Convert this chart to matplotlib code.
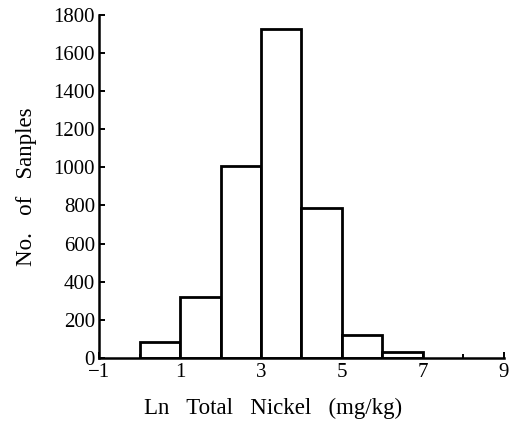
import matplotlib
matplotlib.use("Agg")
import matplotlib.pyplot as plt

# Histogram of ln total nickel, bins of width 1
bin_edges = [0, 1, 2, 3, 4, 5, 6, 7]
counts = [85, 318, 1005, 1725, 785, 118, 30]

x_ticks = [-1, 1, 3, 5, 7, 9]
x_minor = [0, 2, 4, 6, 8]
y_ticks = [0, 200, 400, 600, 800, 1000, 1200, 1400, 1600, 1800]

plt.rcParams['font.family'] = ['Liberation Serif', 'DejaVu Serif']

fig = plt.figure(figsize=(5.14, 4.24), dpi=100)
ax = fig.add_axes([0.193, 0.156, 0.787, 0.809])

widths = [b - a for a, b in zip(bin_edges[:-1], bin_edges[1:])]
ax.bar(bin_edges[:-1], counts, width=widths, align='edge',
       facecolor='white', edgecolor='black', linewidth=2.0)

ax.set_xlim(-1, 9)
ax.set_ylim(0, 1800)
ax.set_xticks(x_ticks)
ax.set_xticklabels(['\u22121' if t < 0 else str(t) for t in x_ticks])
ax.set_xticks(x_minor, minor=True)
ax.set_yticks(y_ticks)

for side in ['top', 'right']:
    ax.spines[side].set_visible(False)
for side in ['left', 'bottom']:
    ax.spines[side].set_linewidth(1.8)

ax.tick_params(which='both', direction='in', length=4, width=1.4, labelsize=15)
ax.tick_params(axis='x', pad=4)
ax.tick_params(axis='y', pad=3)
ax.tick_params(which='minor', length=3)

ax.set_xlabel('Ln   Total   Nickel   (mg/kg)', fontsize=16.5, labelpad=11)
ax.xaxis.label.set_x(0.43)
ax.set_ylabel('No.   of   Sanples', fontsize=16.5, labelpad=12)

fig.savefig('out.png', dpi=100)
